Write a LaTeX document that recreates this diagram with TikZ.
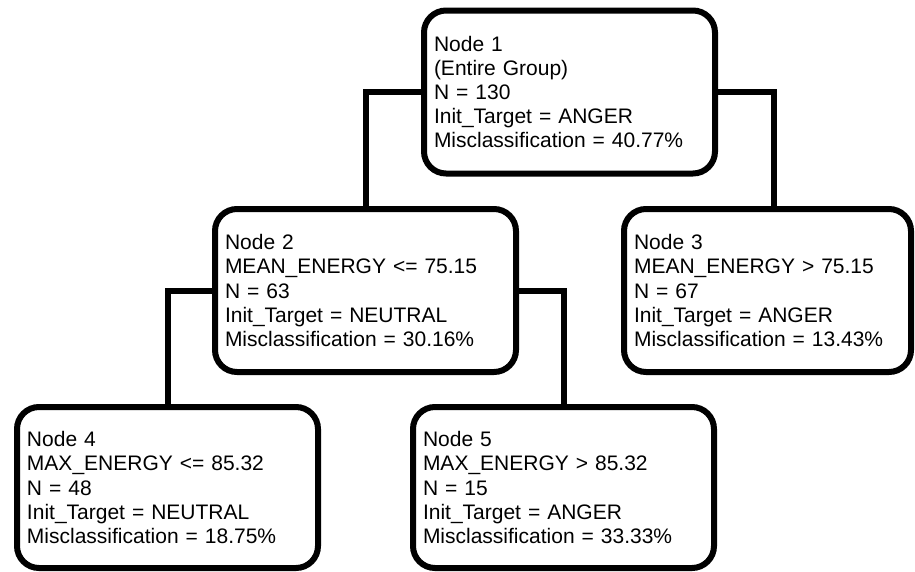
\documentclass[tikz,border=0pt]{standalone}
\usepackage{fontspec}
\setmainfont{Liberation Sans}
\begin{document}
\begin{tikzpicture}[x=1pt, y=-1pt,
  treebox/.style={draw=black, line width=6pt, rounded corners=22pt, fill=white,
    inner xsep=10pt, inner ysep=0pt, align=left,
    font=\fontsize{21}{24.15}\selectfont},
  branch/.style={draw=black, line width=6pt}]
\useasboundingbox (0,0) rectangle (915,571);
% decision tree nodes
\node[treebox, minimum width=291pt, minimum height=163pt, text width=271pt]
  (n1) at (569.5,92)
  {Node 1\\(Entire Group)\\N = 130\\Init\_Target = ANGER\\Misclassification = 40.77\%};
\node[treebox, minimum width=301pt, minimum height=163pt, text width=281pt]
  (n2) at (365.5,290.5)
  {Node 2\\MEAN\_ENERGY <= 75.15\\N = 63\\Init\_Target = NEUTRAL\\Misclassification = 30.16\%};
\node[treebox, minimum width=287pt, minimum height=163pt, text width=267pt]
  (n3) at (767.5,290.5)
  {Node 3\\MEAN\_ENERGY > 75.15\\N = 67\\Init\_Target = ANGER\\Misclassification = 13.43\%};
\node[treebox, minimum width=301pt, minimum height=161pt, text width=281pt]
  (n4) at (167.5,487.5)
  {Node 4\\MAX\_ENERGY <= 85.32\\N = 48\\Init\_Target = NEUTRAL\\Misclassification = 18.75\%};
\node[treebox, minimum width=301pt, minimum height=161pt, text width=281pt]
  (n5) at (563.5,487.5)
  {Node 5\\MAX\_ENERGY > 85.32\\N = 15\\Init\_Target = ANGER\\Misclassification = 33.33\%};
% branches from each parent to its children
\draw[branch] (n1.west) -| (n2.north);
\draw[branch] (n1.east) -| ([xshift=6.5pt]n3.north);
\draw[branch] (n2.west) -| (n4.north);
\draw[branch] (n2.east) -| (n5.north);
\end{tikzpicture}
\end{document}
